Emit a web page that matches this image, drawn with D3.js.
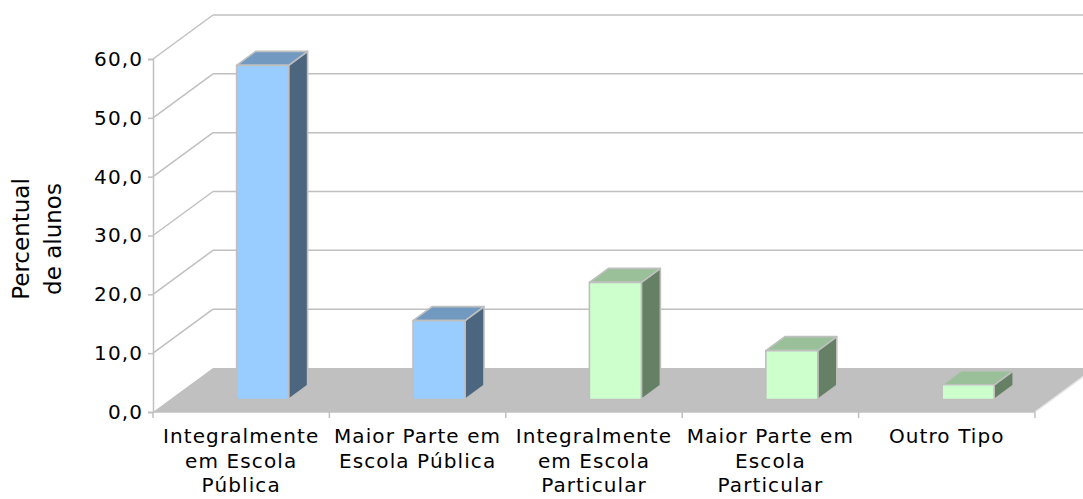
<!DOCTYPE html>
<html><head><meta charset="utf-8">
<script src="https://cdn.jsdelivr.net/npm/d3@7"></script>
<style>body{margin:0;background:#fff}svg{display:block}</style>
</head><body>
<svg id="c" width="1083" height="499"></svg>
<script>
// ---- data ----
const categories = [
  ["Integralmente","em Escola","Pública"],
  ["Maior Parte em","Escola Pública"],
  ["Integralmente","em Escola","Particular"],
  ["Maior Parte em","Escola","Particular"],
  ["Outro Tipo"]
];
const values = [56.8, 13.4, 19.9, 8.3, 2.5];
const schools = ["publica","publica","particular","particular","particular"];
const yTicks = [0,10,20,30,40,50,60];
const yTitle = ["Percentual","de alunos"];

// ---- styles / layout ----
const palette = {
  publica:   {front:"#99CCFF", top:"#7299C0", side:"#4C6680"},
  particular:{front:"#CCFFCC", top:"#99C099", side:"#668066"}
};
const grid = "#C0C0C0";
const font = "DejaVu Sans, Verdana, sans-serif";
const depth = {dx:60, dy:-44};       // full floor depth
const barPos = {dx:21.4, dy:-12.5};  // bar front inside the floor
const barDepth = {dx:19, dy:-14};
const barW = 52;

const svg = d3.select("#c");
const y = d3.scaleLinear().domain([0,60]).range([412,59]);
const xb = d3.scaleLinear().domain([0,categories.length]).range([153,1035]);
const idx = d3.range(categories.length);

// side wall diagonals and back wall grid
const g = svg.append("g");
g.selectAll("line.diag").data(yTicks.filter(d=>d>0)).join("line")
  .attr("x1", xb(0)).attr("y1", d=>y(d))
  .attr("x2", xb(0)+depth.dx).attr("y2", d=>y(d)+depth.dy)
  .attr("stroke", grid).attr("stroke-width",1.5);
g.selectAll("line.back").data(yTicks.filter(d=>d>0)).join("line")
  .attr("x1", xb(0)+depth.dx).attr("y1", d=>y(d)+depth.dy)
  .attr("x2", xb(categories.length)+depth.dx).attr("y2", d=>y(d)+depth.dy)
  .attr("stroke", grid).attr("stroke-width",1.5);

// floor
const f0 = y(0);
svg.append("path")
  .attr("d", `M${xb(0)},${f0}L${xb(categories.length)},${f0}L${xb(categories.length)+depth.dx},${f0+depth.dy}L${xb(0)+depth.dx},${f0+depth.dy}Z`)
  .attr("fill","#C0C0C0");
svg.append("line")
  .attr("x1", xb(categories.length)).attr("y1", f0)
  .attr("x2", xb(categories.length)+depth.dx).attr("y2", f0+depth.dy)
  .attr("stroke","#E6E6E6").attr("stroke-width",1.5);

// value axis
const yAxis = d3.axisLeft(y).tickValues(yTicks).tickSize(5).tickPadding(5)
  .tickFormat(d => d3.format(".1f")(d).replace(".", ","));
const ya = svg.append("g").attr("transform",`translate(${xb(0)},0)`).call(yAxis);
ya.select(".domain").attr("stroke",grid).attr("stroke-width",1.5);
ya.selectAll(".tick line").attr("stroke",grid).attr("stroke-width",1.5);
ya.selectAll("text").attr("font-family",font).attr("font-size",20)
  .attr("letter-spacing","1.1px").attr("fill","#000");

// category axis
const ca = svg.append("g");
ca.append("line").attr("x1",xb(0)).attr("x2",xb(categories.length))
  .attr("y1",f0).attr("y2",f0).attr("stroke",grid).attr("stroke-width",1.5);
ca.selectAll("line.t").data(d3.range(categories.length+1)).join("line")
  .attr("x1",d=>xb(d)).attr("x2",d=>xb(d)).attr("y1",f0).attr("y2",f0+6)
  .attr("stroke",grid).attr("stroke-width",1.5);
const labels = ca.selectAll("text").data(idx).join("text")
  .attr("x", i=>xb(i+0.5)).attr("y", 443)
  .attr("text-anchor","middle").attr("font-family",font).attr("font-size",20)
  .attr("letter-spacing","1.1px").attr("fill","#000");
labels.selectAll("tspan").data(i=>categories[i].map(s=>({s,i}))).join("tspan")
  .attr("x", d=>xb(d.i+0.5)).attr("dy",(d,k)=>k===0?0:24.5).text(d=>d.s);

// bars
const bars = svg.append("g").selectAll("g").data(idx).join("g");
bars.each(function(i){
  const c = palette[schools[i]];
  const L = xb(i+0.5) - barW/2 + barPos.dx;
  const R = L + barW;
  const yb = f0 + barPos.dy;
  const yt = yb - (y(0) - y(values[i]));
  const dx = barDepth.dx, dy = barDepth.dy;
  const s = d3.select(this);
  const st = {stroke:"#BFBFBF", w:1.6};
  s.append("path").attr("d",`M${R},${yb}L${R},${yt}L${R+dx},${yt+dy}L${R+dx},${yb+dy}Z`)
    .attr("fill",c.side).attr("stroke",st.stroke).attr("stroke-width",st.w).attr("stroke-linejoin","round");
  s.append("path").attr("d",`M${L},${yt}L${R},${yt}L${R+dx},${yt+dy}L${L+dx},${yt+dy}Z`)
    .attr("fill",c.top).attr("stroke",st.stroke).attr("stroke-width",st.w).attr("stroke-linejoin","round");
  s.append("path").attr("d",`M${L},${yb}L${L},${yt}L${R},${yt}L${R},${yb}Z`)
    .attr("fill",c.front).attr("stroke",st.stroke).attr("stroke-width",st.w).attr("stroke-linejoin","round");
});

// y title
const yt = svg.append("text").attr("transform","translate(29,239) rotate(-90)")
  .attr("text-anchor","middle").attr("font-family",font).attr("font-size",23).attr("fill","#000");
yt.selectAll("tspan").data(yTitle).join("tspan")
  .attr("x",0).attr("y",(d,k)=>k*32).text(d=>d);
</script>
</body></html>
